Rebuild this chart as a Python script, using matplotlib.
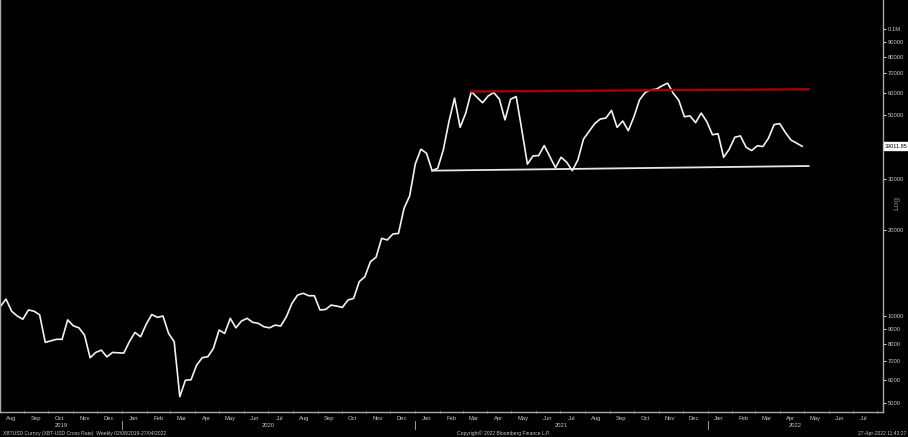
#!/usr/bin/env python3

import matplotlib
matplotlib.use("Agg")
import matplotlib.pyplot as plt
import matplotlib.dates as mdates
import matplotlib.ticker as mticker
import matplotlib.transforms as mtransforms
import pandas as pd

# weekly XBT-USD closes
prices = [
    10800, 11460, 10400, 10000, 9750, 10500, 10400, 10100, 8100, 8200,
    8300, 8300, 9700, 9250, 9100, 8590, 7160, 7470, 7610, 7210,
    7470, 7450, 7430, 8140, 8770, 8470, 9360, 10120, 9900, 10000,
    8700, 8140, 5240, 5980, 6000, 6750, 7160, 7220, 7720, 8940,
    8700, 9820, 9100, 9610, 9820, 9510, 9430, 9180, 9100, 9300,
    9230, 9940, 11070, 11830, 12000, 11770, 11770, 10500, 10540, 10920,
    10830, 10720, 11370, 11520, 13170, 13710, 15460, 16020, 18650, 18400,
    19300, 19400, 23740, 26200, 33830, 38100, 36880, 32080, 32700, 37900,
    47520, 57360, 45400, 50900, 60500, 57800, 55300, 58400, 60000, 56900,
    48200, 56900, 58100, 44500, 33800, 36100, 36200, 39240, 35900, 32850,
    35710, 34330, 32080, 34950, 41300, 43950, 46780, 48520, 48900, 52000,
    45400, 47770, 44200, 49430, 56630, 60000, 61300, 61650, 63300, 64700,
    59700, 56360, 49430, 49760, 47140, 50900, 47520, 42780, 43130, 35710,
    38100, 41950, 42380, 38700, 37700, 39150, 38930, 41600, 46410, 46780,
    43600, 41020, 39990, 39012,
]
dates = pd.date_range("2019-08-02", periods=len(prices), freq="7D")

# trend lines drawn on the chart
resistance_dates = pd.to_datetime(["2021-03-12", "2022-05-07"])
resistance_values = [60500, 61600]
support_dates = pd.to_datetime(["2021-01-22", "2022-05-07"])
support_values = [32080, 33300]

last_price_label = "39011.85"
y_ticks = [5000, 6000, 7000, 8000, 9000, 10000, 20000, 30000,
           50000, 60000, 70000, 80000, 90000, 100000]
y_tick_labels = ["5000", "6000", "7000", "8000", "9000", "10000", "20000", "30000",
                 "50000", "60000", "70000", "80000", "90000", "0.1M"]
years = [2019, 2020, 2021, 2022]

fg = "#c8c8c8"
plt.rcParams["font.family"] = ["Liberation Sans", "DejaVu Sans"]

fig = plt.figure(figsize=(9.08, 4.37), dpi=100, facecolor="black")
ax = fig.add_axes([0.0, 0.0572, 0.9725, 0.9428], facecolor="black")

ax.plot(dates, prices, color="#f2f2f2", lw=1.2, solid_joinstyle="round")
ax.plot(resistance_dates, resistance_values, color="#a80000", lw=1.7)
ax.plot(support_dates, support_values, color="#e6e6e6", lw=1.3)

ax.set_yscale("log")
ax.set_ylim(4634, 126000)
x0 = dates[0] - pd.Timedelta(days=0.5)
x1 = dates[0] + pd.Timedelta(days=1102)
ax.set_xlim(x0, x1)

# right-hand log axis
ax.yaxis.tick_right()
ax.yaxis.set_major_locator(mticker.FixedLocator(y_ticks))
ax.yaxis.set_major_formatter(mticker.FixedFormatter(y_tick_labels))
ax.yaxis.set_minor_locator(mticker.NullLocator())
ax.tick_params(axis="y", colors=fg, labelsize=4.2, length=2.5, width=0.8,
               direction="out", pad=1)

# months: ticks at month start, labels mid-month
ax.xaxis.set_major_locator(mdates.MonthLocator(bymonthday=15))
ax.xaxis.set_major_formatter(mdates.DateFormatter("%b"))
ax.xaxis.set_minor_locator(mdates.MonthLocator())
ax.tick_params(axis="x", which="major", colors=fg, labelsize=4.2, length=0, pad=3)
ax.tick_params(axis="x", which="minor", color=fg, length=2, width=0.6, direction="inout")

ax.spines["top"].set_visible(False)
for side in ["left", "right", "bottom"]:
    ax.spines[side].set_color("#a8a8a8")
    ax.spines[side].set_linewidth(1.0)

# year labels and separators under the month row
trans = mtransforms.blended_transform_factory(ax.transData, ax.transAxes)
for yr in years:
    start = max(pd.Timestamp(f"{yr}-01-01"), x0)
    end = min(pd.Timestamp(f"{yr + 1}-01-01"), x1)
    mid = start + (end - start) / 2
    ax.text(mid, -0.032, str(yr), transform=trans, color=fg, fontsize=4.2,
            ha="center", va="center")
    if yr > years[0]:
        ax.plot([pd.Timestamp(f"{yr}-01-01")] * 2, [-0.022, -0.042], transform=trans,
                color="#9a9a9a", lw=0.7, clip_on=False)

# last price tag and Log marker
ax.annotate(last_price_label, xy=(1.0, prices[-1]),
            xycoords=mtransforms.blended_transform_factory(ax.transAxes, ax.transData),
            xytext=(1.5, 0), textcoords="offset points", ha="left", va="center",
            fontsize=4.0, color="black",
            bbox=dict(boxstyle="square,pad=0.25", fc="white", ec="white"))
fig.text(0.988, 0.535, "Log", rotation=90, color="#8a8a8a", fontsize=6,
         ha="center", va="center")

# footer
fig.text(0.003, 0.003, "XBTUSD Curncy (XBT-USD Cross Rate)  Weekly 02/08/2019-27/04/2022",
         color=fg, fontsize=3.6, ha="left", va="bottom")
fig.text(0.555, 0.003, "Copyright\u00a9 2022 Bloomberg Finance L.P.",
         color=fg, fontsize=3.6, ha="center", va="bottom")
fig.text(0.998, 0.003, "27-Apr-2022 11:43:27",
         color=fg, fontsize=3.6, ha="right", va="bottom")

fig.savefig("out.png", dpi=100, facecolor="black")
